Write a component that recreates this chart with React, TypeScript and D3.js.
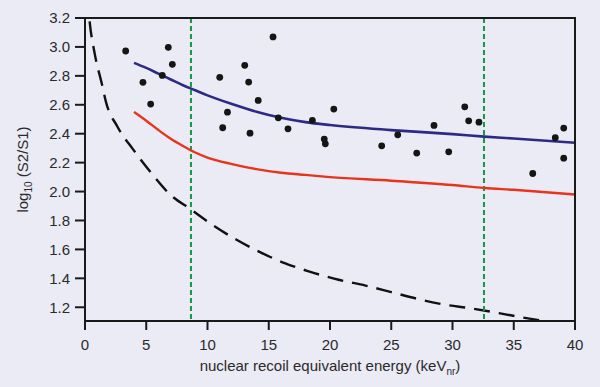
import React from "react";
import * as d3 from "d3";

// measured points (keV_nr, log10 S2/S1)
const pointEnergy = [
  3.32, 4.73, 5.36, 6.31, 6.8, 7.13, 11.0, 11.24, 11.63, 13.04, 13.36, 13.47,
  14.14, 15.35, 15.78, 16.57, 18.56, 19.53, 19.62, 20.31, 24.22, 25.53, 27.08,
  28.49, 29.69, 31.0, 31.32, 32.16, 36.55, 38.39, 39.08, 39.08,
];
const pointRatio = [
  2.972, 2.755, 2.605, 2.803, 2.997, 2.88, 2.79, 2.441, 2.549, 2.873, 2.757,
  2.404, 2.63, 3.069, 2.51, 2.434, 2.492, 2.363, 2.33, 2.57, 2.316, 2.392,
  2.266, 2.457, 2.275, 2.586, 2.489, 2.48, 2.125, 2.372, 2.439, 2.231,
];

// electron recoil band mean (blue) and nuclear recoil median (red)
const bandEnergy = [4, 5, 6, 7, 8, 9, 10, 12, 14, 16, 18, 20, 25, 30, 32.6, 35, 40];
const blueRatio = [
  2.89, 2.855, 2.815, 2.775, 2.735, 2.7, 2.665, 2.605, 2.552, 2.51, 2.48, 2.46,
  2.425, 2.397, 2.38, 2.367, 2.337,
];
const redRatio = [
  2.55, 2.49, 2.425, 2.365, 2.315, 2.27, 2.235, 2.19, 2.155, 2.13, 2.115, 2.1,
  2.075, 2.045, 2.025, 2.012, 1.98,
];

// dashed threshold curve
const dashEnergy = [
  0.2, 0.35, 0.8, 1.36, 1.71, 2.64, 3.94, 5.44, 6.94, 8.65, 10.4, 12.3, 14.2,
  16.3, 18.2, 20.7, 22.9, 25, 27.3, 28.9, 31.7, 34, 36.4, 38,
];
const dashRatio = [
  3.35, 3.2, 2.95, 2.75, 2.62, 2.45, 2.29, 2.125, 1.98, 1.876, 1.77, 1.67,
  1.585, 1.505, 1.45, 1.39, 1.35, 1.305, 1.255, 1.225, 1.19, 1.156, 1.12, 1.1,
];

const windowEdges = [8.65, 32.57];
const xTicks = [0, 5, 10, 15, 20, 25, 30, 35, 40];
const yTicks = [1.2, 1.4, 1.6, 1.8, 2.0, 2.2, 2.4, 2.6, 2.8, 3.0, 3.2];

const W = 600;
const H = 387;
const margin = { left: 85, right: 25, top: 18, bottom: 66 };
const font = "'Liberation Sans', Arial, sans-serif";

export default function App() {
  const x = d3.scaleLinear().domain([0, 40]).range([margin.left, W - margin.right]);
  const y = d3.scaleLinear().domain([1.105, 3.2]).range([H - margin.bottom, margin.top]);

  const line = d3
    .line<[number, number]>()
    .x((d) => x(d[0]))
    .y((d) => y(d[1]))
    .curve(d3.curveMonotoneX);

  const blue = line(bandEnergy.map((e, i) => [e, blueRatio[i]]));
  const red = line(bandEnergy.map((e, i) => [e, redRatio[i]]));
  const dash = line(dashEnergy.map((e, i) => [e, dashRatio[i]]));

  const [x0, x1] = x.range();
  const [yb, yt] = y.range();

  return (
    <div style={{ position: "absolute", left: 0, top: 0 }}>
      <svg width={W} height={H} style={{ display: "block", background: "#ebebf5" }}>
        <defs>
          <clipPath id="plot">
            <rect x={x0} y={yt} width={x1 - x0} height={yb - yt} />
          </clipPath>
        </defs>

        <g clipPath="url(#plot)">
          <path d={dash!} fill="none" stroke="#111" strokeWidth={2.4} strokeDasharray="16 9" />
        </g>

        {windowEdges.map((e) => (
          <line
            key={e}
            x1={x(e)}
            x2={x(e)}
            y1={yt}
            y2={yb}
            stroke="#1a9640"
            strokeWidth={2}
            strokeDasharray="5 3"
          />
        ))}

        <path d={red!} fill="none" stroke="#e8341c" strokeWidth={2.4} />
        <path d={blue!} fill="none" stroke="#2c2a84" strokeWidth={2.6} />

        {pointEnergy.map((e, i) => (
          <circle key={i} cx={x(e)} cy={y(pointRatio[i])} r={3.4} fill="#151515" />
        ))}

        {/* frame */}
        <rect x={x0} y={yt} width={x1 - x0} height={yb - yt} fill="none" stroke="#1a1a1a" strokeWidth={2} />

        {yTicks.map((t) => (
          <g key={t} transform={`translate(${x0},${y(t)})`}>
            <line x1={-10} x2={0} stroke="#1a1a1a" strokeWidth={2} />
            <text
              x={-15}
              dy="0.35em"
              textAnchor="end"
              fontFamily={font}
              fontSize={15}
              fill="#2a2a2a"
            >
              {t.toFixed(1)}
            </text>
          </g>
        ))}

        {xTicks.map((t) => (
          <g key={t} transform={`translate(${x(t)},${yb})`}>
            <line y1={0} y2={9} stroke="#1a1a1a" strokeWidth={2} />
            <text y={29} textAnchor="middle" fontFamily={font} fontSize={15} fill="#2a2a2a">
              {t}
            </text>
          </g>
        ))}

        <text
          x={(x0 + x1) / 2}
          y={371}
          textAnchor="middle"
          fontFamily={font}
          fontSize={15}
          fill="#2a2a2a"
        >
          nuclear recoil equivalent energy (keV
          <tspan fontSize={10} dy={4}>nr</tspan>
          <tspan dy={-4}>)</tspan>
        </text>

        <text
          transform={`translate(28,${(yt + yb) / 2}) rotate(-90)`}
          textAnchor="middle"
          fontFamily={font}
          fontSize={15}
          fill="#2a2a2a"
        >
          log
          <tspan fontSize={10} dy={4}>10</tspan>
          <tspan dy={-4}> (S2/S1)</tspan>
        </text>
      </svg>
    </div>
  );
}
